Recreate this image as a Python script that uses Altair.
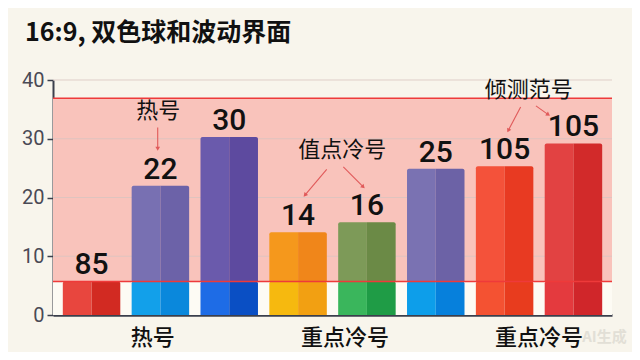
import math
import altair as alt
import pandas as pd

# ---------------- data ----------------
bar_index = [1, 2, 3, 4, 5, 6, 7, 8]
bar_values = [5.8, 22.0, 30.3, 14.1, 15.8, 24.9, 25.3, 29.2]
bar_labels = ["85", "22", "30", "14", "16", "25", "105", "105"]
split_value = 5.7      # lower red line
band_top = 36.9        # upper red line
y_ticks = [0, 10, 20, 30, 40]
grid_values = [10, 20, 30, 40]

top_left = ["#e8463e", "#7870b2", "#6a5aac", "#f5981c", "#7d9a58", "#7a72b2", "#f4523a", "#e24242"]
top_right = ["#d22a22", "#6c62a8", "#5d4a9f", "#f0861a", "#6b8a46", "#6c62a6", "#e83a22", "#d22a2a"]
bottom_left = ["#e8463e", "#12a0ea", "#1e6ce6", "#f6b90f", "#3ab65c", "#0d9eea", "#f45232", "#e43a3e"]
bottom_right = ["#d22a22", "#0a88dc", "#0a4fc4", "#f2a012", "#1f9c46", "#0680dc", "#e83c1e", "#d0262a"]

x_label_text = ["热号", "重点冷号", "重点冷号"]
x_label_pos = [1.89, 4.68, 7.50]

note_text = ["热号", "值点冷号", "倾测范号"]
note_x = [1.97, 4.64, 7.35]
note_y = [34.7, 28.1, 38.3]

arrow_x1 = [1.961, 4.416, 4.657, 7.233, 7.455]
arrow_y1 = [31.9, 24.8, 25.2, 35.4, 35.6]
arrow_x2 = [1.961, 4.100, 4.947, 7.053, 7.634]
arrow_y2 = [28.3, 20.4, 21.8, 31.4, 34.1]

watermark = "AI生成"

# ---------------- layout constants ----------------
X_MIN, X_MAX = 0.44, 8.56
W, H = 559, 235
HALF = 0.4175
PX_X = W / (X_MAX - X_MIN)
PX_Y = H / 40.0

xs = alt.Scale(domain=[X_MIN, X_MAX], nice=False, zero=False)
ys = alt.Scale(domain=[0, 40], nice=False, zero=False)


def X(f):
    return alt.X(f, type="quantitative", scale=xs, title=None)


def Y(f):
    return alt.Y(f, type="quantitative", scale=ys, title=None,
                 axis=alt.Axis(values=y_ticks))


# bars: four pieces per bar (bottom/top x left/right half)
rows = []
for i, v, tl, tr, bl, br in zip(bar_index, bar_values, top_left, top_right, bottom_left, bottom_right):
    lo = min(v, split_value)
    rows.append(dict(side="L", xa=i - HALF, xb=i, y0=0, y1=lo, c=bl))
    rows.append(dict(side="R", xa=i, xb=i + HALF, y0=0, y1=lo, c=br))
    if v > split_value:
        rows.append(dict(side="L", xa=i - HALF, xb=i, y0=split_value, y1=v, c=tl))
        rows.append(dict(side="R", xa=i, xb=i + HALF, y0=split_value, y1=v, c=tr))
bars_df = pd.DataFrame(rows)

labels_df = pd.DataFrame({"x": bar_index, "y": bar_values, "t": bar_labels})
xl_df = pd.DataFrame({"x": x_label_pos, "y": [0] * len(x_label_pos), "t": x_label_text})
note_df = pd.DataFrame({"x": note_x, "y": note_y, "t": note_text})
arr_df = pd.DataFrame({"x1": arrow_x1, "y1": arrow_y1, "x2": arrow_x2, "y2": arrow_y2})
arr_df["ang"] = [
    (math.degrees(math.atan2((b - a) * PX_X, (d - c) * PX_Y)) + 360) % 360
    for a, b, c, d in zip(arrow_x1, arrow_x2, arrow_y1, arrow_y2)
]
strip_df = pd.DataFrame({"lo": [0], "hi": [split_value]})
band_df = pd.DataFrame({"lo": [split_value], "hi": [band_top]})
grid_df = pd.DataFrame({"y": grid_values})
red_df = pd.DataFrame({"y": [split_value, band_top]})
wm_df = pd.DataFrame({"x": [8.45], "y": [-3.75], "t": [watermark]})

strip = alt.Chart(strip_df).mark_rect(color="#fdfbf4").encode(
    x=alt.value(0), x2=alt.value("width"), y=Y("lo"), y2="hi")
band = alt.Chart(band_df).mark_rect(color="#f9c3bb").encode(
    x=alt.value(0), x2=alt.value("width"), y=Y("lo"), y2="hi")
grid = alt.Chart(grid_df).mark_rule(color="#d8c4c0", strokeWidth=1, opacity=0.8).encode(y=Y("y"))
bars_l = alt.Chart(bars_df).transform_filter("datum.side == 'L'").mark_rect(cornerRadiusTopLeft=2).encode(
    x=X("xa"), x2="xb", y=Y("y0"), y2="y1", color=alt.Color("c:N", scale=None))
bars_r = alt.Chart(bars_df).transform_filter("datum.side == 'R'").mark_rect(cornerRadiusTopRight=2).encode(
    x=X("xa"), x2="xb", y=Y("y0"), y2="y1", color=alt.Color("c:N", scale=None))
red = alt.Chart(red_df).mark_rule(color="#ee3a3a", strokeWidth=1.6).encode(y=Y("y"))
vals = alt.Chart(labels_df).mark_text(
    font="Roboto", fontSize=30, fontWeight=500, color="#111111", baseline="alphabetic", dy=-7
).encode(x=X("x"), y=Y("y"), text="t:N")
xlabs = alt.Chart(xl_df).mark_text(
    font="Noto Sans CJK SC", fontSize=22, fontWeight=500, color="#111111", baseline="middle", dy=23
).encode(x=X("x"), y=Y("y"), text="t:N")
notes = alt.Chart(note_df).mark_text(
    font="Noto Sans CJK SC", fontSize=22, color="#111111", baseline="middle"
).encode(x=X("x"), y=Y("y"), text="t:N")
arrows = alt.Chart(arr_df).mark_rule(color="#e05a5a", strokeWidth=1.1).encode(
    x=X("x1"), y=Y("y1"), x2="x2", y2="y2")
heads = alt.Chart(arr_df).mark_point(shape="triangle-up", filled=True, size=22, color="#e05a5a", opacity=1).encode(
    x=X("x2"), y=Y("y2"), angle=alt.Angle("ang:Q", scale=None))
wm = alt.Chart(wm_df).mark_text(
    font="Noto Sans CJK SC", fontSize=15, fontWeight="bold", color="#e2dfd6", baseline="middle"
).encode(x=X("x"), y=Y("y"), text="t:N")

chart = alt.layer(strip, band, grid, bars_l, bars_r, red, vals, xlabs, notes, arrows, heads, wm).properties(
    width=W, height=H,
    autosize=alt.AutoSizeParams(type="none"),
    padding={"left": 45, "top": 72, "right": 20, "bottom": 37},
    background="#f8f5ec",
    title=alt.TitleParams(
        "16:9, 双色球和波动界面", anchor="start", frame="group", dx=-28,
        font="Noto Sans CJK SC", fontSize=25, fontWeight="bold", color="#111111", offset=24
    ),
).configure_view(stroke=None).configure_axisY(
    grid=False, domainColor="#3b3f4c", domainWidth=2, tickColor="#3b3f4c", tickSize=6,
    tickWidth=1.5, labelFont="Roboto", labelFontSize=20, labelColor="#4a4a55", labelPadding=3
).configure_axisX(
    grid=False, labels=False, ticks=False, domainColor="#3b3f4c", domainWidth=2.5
)

chart.save("out.html", embed_options={"renderer": "svg", "actions": False})
